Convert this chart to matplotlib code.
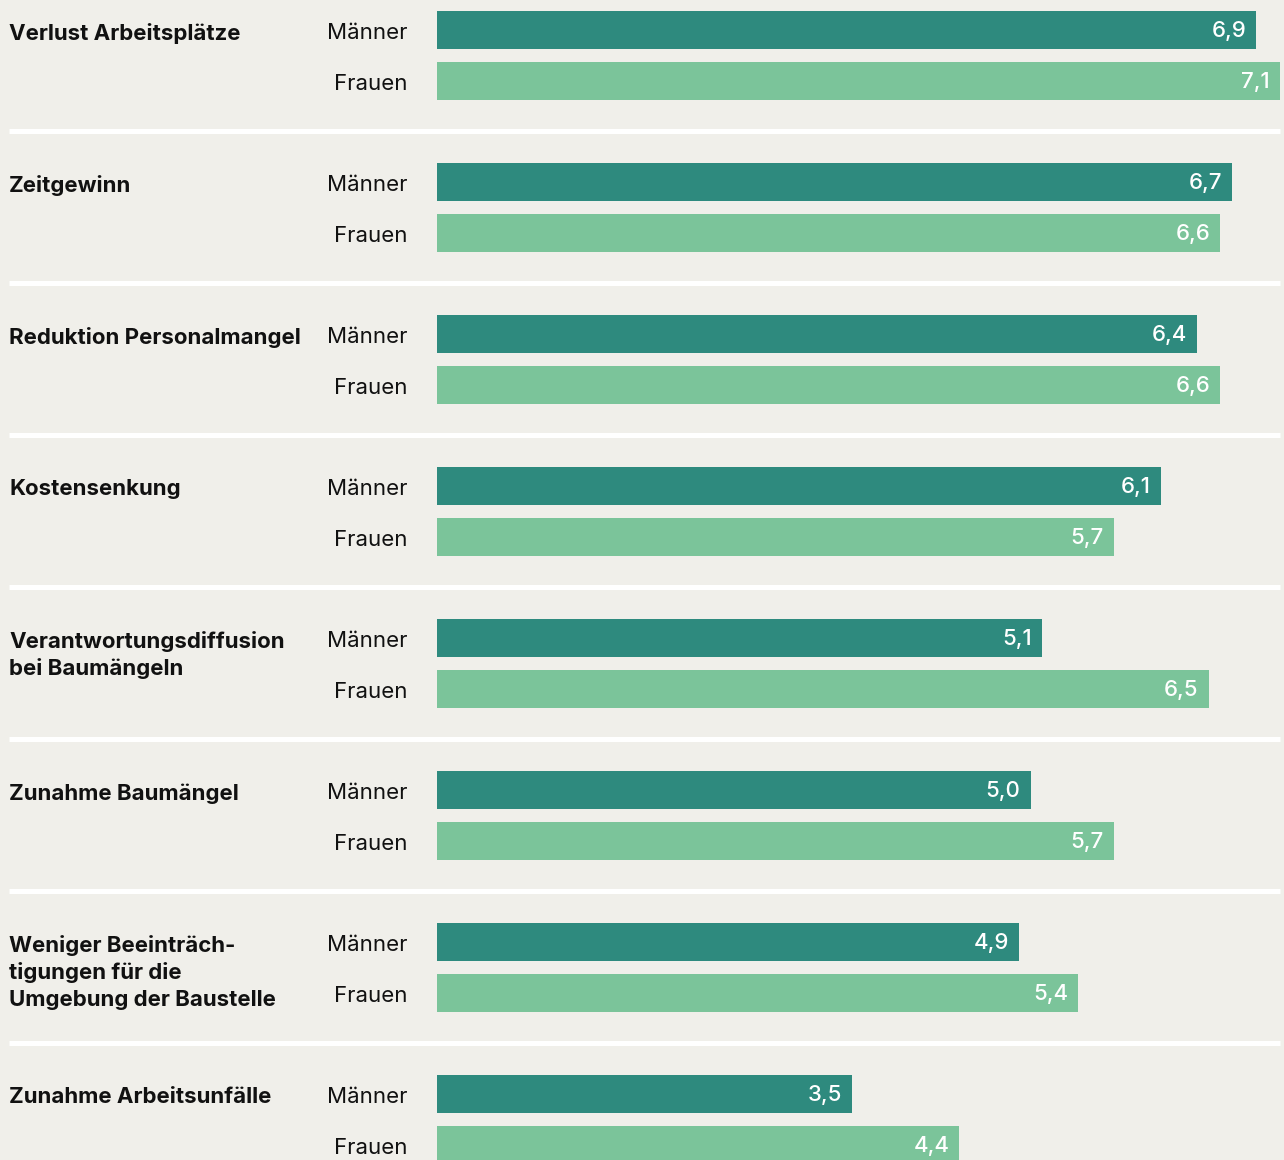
import matplotlib.pyplot as plt

plt.rcParams['font.family'] = ['Inter', 'DejaVu Sans']

categories = [
    "Verlust Arbeitsplätze",
    "Zeitgewinn",
    "Reduktion Personalmangel",
    "Kostensenkung",
    "Verantwortungsdiffusion\nbei Baumängeln",
    "Zunahme Baumängel",
    "Weniger Beeinträch-\ntigungen für die\nUmgebung der Baustelle",
    "Zunahme Arbeitsunfälle",
]
maenner = [6.9, 6.7, 6.4, 6.1, 5.1, 5.0, 4.9, 3.5]
frauen = [7.1, 6.6, 6.6, 5.7, 6.5, 5.7, 5.4, 4.4]
series_labels = ["Männer", "Frauen"]

bg = "#f0efea"
c_m = "#2e8a7e"
c_f = "#7bc49a"

W, H = 1284, 1160
px_unit = 118.7      # pixels per value unit
x0 = 437 / px_unit   # bar origin offset from left edge
pitch = 152          # pixels per group

fig = plt.figure(figsize=(W / 100, H / 100), dpi=100, facecolor=bg)
ax = fig.add_axes([0, 0, 1, 1])
ax.set_facecolor(bg)
ax.set_xlim(-x0, (W - 437) / px_unit)
ax.set_ylim(H / pitch, 0)
ax.axis("off")

bh = 38 / pitch
ym = [i + 30 / pitch for i in range(len(categories))]
yf = [i + 81 / pitch for i in range(len(categories))]

ax.barh(ym, maenner, height=bh, color=c_m)
ax.barh(yf, frauen, height=bh, color=c_f)

fs = 16
for i, cat in enumerate(categories):
    ax.annotate(cat, xy=(-x0, ym[i]), xytext=(9, 7), textcoords="offset pixels",
                ha="left", va="top", fontsize=fs, fontweight=650,
                color="#111111", linespacing=1.38)
    ax.annotate(series_labels[0], xy=(0, ym[i]), xytext=(-30, -3),
                textcoords="offset pixels", ha="right", va="center",
                fontsize=fs, color="#111111")
    ax.annotate(series_labels[1], xy=(0, yf[i]), xytext=(-30, -3),
                textcoords="offset pixels", ha="right", va="center",
                fontsize=fs, color="#111111")
    ax.annotate(f"{maenner[i]:.1f}".replace(".", ","), xy=(maenner[i], ym[i]),
                xytext=(-10, -1), textcoords="offset pixels", ha="right",
                va="center", fontsize=fs, fontweight=500, color="white")
    ax.annotate(f"{frauen[i]:.1f}".replace(".", ","), xy=(frauen[i], yf[i]),
                xytext=(-10, -1), textcoords="offset pixels", ha="right",
                va="center", fontsize=fs, fontweight=500, color="white")
    if i < len(categories) - 1:
        ax.plot([-x0 + 9 / px_unit, (1280 - 437) / px_unit],
                [i + 130.5 / pitch] * 2, color="white", lw=3.6,
                solid_capstyle="butt")

fig.savefig("out.png", dpi=100, facecolor=bg)
